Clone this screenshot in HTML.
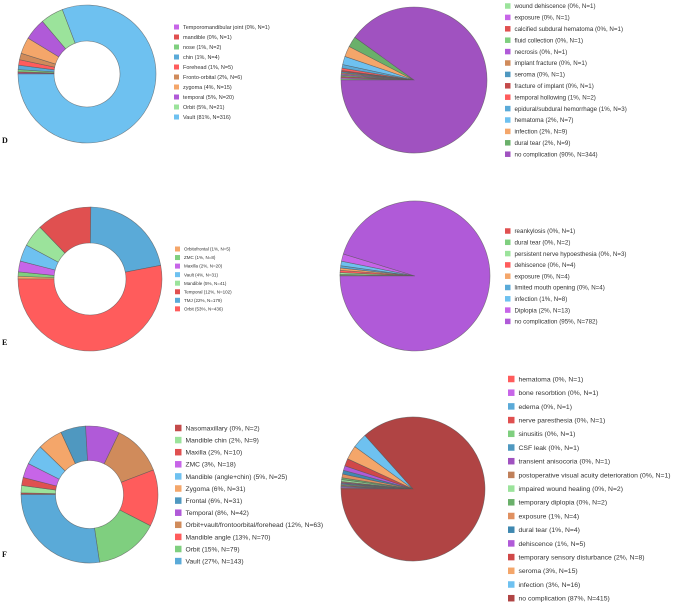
<!DOCTYPE html>
<html><head><meta charset="utf-8">
<style>
html,body{margin:0;padding:0;background:#fff;}
svg{display:block;font-family:"Liberation Sans",sans-serif;}
.lt{fill:#333;}
.pl{font-family:"Liberation Serif",serif;font-weight:bold;font-size:8px;fill:#111;}
</style></head>
<body>
<svg id="fig" width="685" height="607" viewBox="0 0 685 607">
<text class="pl" x="2" y="143">D</text>
<text class="pl" x="2" y="345">E</text>
<text class="pl" x="2" y="557">F</text>
</svg>
<script>
// Panel D left: fracture sites
const dLeftLabels=["Temporomandibular joint","mandible","nose","chin","Forehead","Fronto-orbital","zygoma","temporal","Orbit","Vault"];
const dLeftValues=[1,1,2,4,5,6,15,20,21,316];
const dLeftPct=[0,0,1,1,1,2,4,5,5,81];
const dLeftColors=["#c765e8","#e05050","#7fcf7f","#5aaad8","#ff5c5c","#d08b5b","#f4a66a","#b05ad8","#9be39b","#6ec1f0"];
// Panel D right: complications
const dRightLabels=["wound dehiscence","exposure","calcified subdural hematoma","fluid collection","necrosis","implant fracture","seroma","fracture of implant","temporal hollowing","epidural/subdural hemorrhage","hematoma","infection","dural tear","no complication"];
const dRightValues=[1,1,1,1,1,1,1,1,2,3,7,9,9,344];
const dRightPct=[0,0,0,0,0,0,0,0,1,1,2,2,2,90];
const dRightColors=["#9be39b","#c765e8","#e05050","#7fcf7f","#b05ad8","#d08b5b","#4f98c0","#c44a4a","#ff5c5c","#5aaad8","#6ec1f0","#f4a66a","#6ab06a","#a052c0"];
// Panel E left
const eLeftLabels=["Orbitofrontal","ZMC","Maxilla","Vault","Mandible","Temporal","TMJ","Orbit"];
const eLeftValues=[5,8,20,31,41,102,179,436];
const eLeftPct=[1,1,2,4,5,12,22,53];
const eLeftColors=["#f4a66a","#7fcf7f","#c765e8","#6ec1f0","#9be39b","#e05050","#5aaad8","#ff5c5c"];
// Panel E right
const eRightLabels=["reankylosis","dural tear","persistent nerve hypoesthesia","dehiscence","exposure","limited mouth opening","infection","Diplopia","no complication"];
const eRightValues=[1,2,3,4,4,4,8,13,782];
const eRightPct=[0,0,0,0,0,0,1,2,95];
const eRightColors=["#e05050","#7fcf7f","#9be39b","#ff5c5c","#f4a66a","#5aaad8","#6ec1f0","#c765e8","#b05ad8"];
// Panel F left
const fLeftLabels=["Nasomaxillary","Mandible chin","Maxilla","ZMC","Mandible (angle+chin)","Zygoma","Frontal","Temporal","Orbit+vault/frontoorbital/forehead","Mandible angle","Orbit","Vault"];
const fLeftValues=[2,9,10,18,25,31,31,42,63,70,79,143];
const fLeftPct=[0,2,2,3,5,6,6,8,12,13,15,27];
const fLeftColors=["#c44a4a","#9be39b","#e05050","#c765e8","#6ec1f0","#f4a66a","#4f98c0","#b05ad8","#d08b5b","#ff5c5c","#7fcf7f","#5aaad8"];
// Panel F right
const fRightLabels=["hematoma","bone resorbtion","edema","nerve paresthesia","sinusitis","CSF leak","transient anisocoria","postoperative visual acuity deterioration","impaired wound healing","temporary diplopia","exposure","dural tear","dehiscence","temporary sensory disturbance","seroma","infection","no complication"];
const fRightValues=[1,1,1,1,1,1,1,1,2,2,4,4,5,8,15,16,415];
const fRightPct=[0,0,0,0,0,0,0,0,0,0,1,1,1,2,3,3,87];
const fRightColors=["#ff5c5c","#c765e8","#5aaad8","#e05050","#7fcf7f","#4f98c0","#a052c0","#c0805a","#9be39b","#6ab06a","#e09060","#3f88b0","#b05ad8","#d04848","#f4a66a","#6ec1f0","#b04444"];

const NS="http://www.w3.org/2000/svg";
const svg=document.getElementById('fig');
function angleScale(v,total){return Math.PI+v/total*2*Math.PI;}
function pt(cx,cy,r,a){return [cx+r*Math.cos(a),cy+r*Math.sin(a)];}
function drawChart(id,labels,values,pct,colors,cx,cy,r,ri,lx,ly,dy,fs,sw){
  const g=document.createElementNS(NS,'g');
  
  
  svg.appendChild(g);
  const total=values.reduce((a,b)=>a+b,0);
  let acc=0;
  values.forEach((v,i)=>{
    const a0=angleScale(acc,total),a1=angleScale(acc+v,total);acc+=v;
    const large=(a1-a0)>Math.PI?1:0;
    const p0=pt(cx,cy,r,a0),p1=pt(cx,cy,r,a1);
    let d;
    if(ri>0){const q0=pt(cx,cy,ri,a0),q1=pt(cx,cy,ri,a1);
      d=`M${p0[0]},${p0[1]}A${r},${r} 0 ${large} 1 ${p1[0]},${p1[1]}L${q1[0]},${q1[1]}A${ri},${ri} 0 ${large} 0 ${q0[0]},${q0[1]}Z`;}
    else d=`M${cx},${cy}L${p0[0]},${p0[1]}A${r},${r} 0 ${large} 1 ${p1[0]},${p1[1]}Z`;
    const p=document.createElementNS(NS,'path');
    p.setAttribute('d',d);p.setAttribute('fill',colors[i]);
    p.setAttribute('stroke','#555');p.setAttribute('stroke-width','0.6');p.setAttribute('stroke-opacity','0.7');
    
    
    g.appendChild(p);
  });
  labels.forEach((lab,i)=>{
    const y=ly+i*dy;
    const s=document.createElementNS(NS,'rect');
    s.setAttribute('x',lx);s.setAttribute('y',y-sw/2);s.setAttribute('width',sw);s.setAttribute('height',sw);s.setAttribute('fill',colors[i]);
    
    
    g.appendChild(s);
    const t=document.createElementNS(NS,'text');
    t.setAttribute('x',lx+sw+4);t.setAttribute('y',y+fs*0.36);t.setAttribute('font-size',fs);t.setAttribute('class','lt');
    t.textContent=`${lab} (${pct[i]}%, N=${values[i]})`;
    
    
    g.appendChild(t);
  });
}
drawChart('chart-d-fracture-sites',dLeftLabels,dLeftValues,dLeftPct,dLeftColors,87,74,69,33,174,27,10,5.5,5);
drawChart('chart-d-complications',dRightLabels,dRightValues,dRightPct,dRightColors,414,80,73,0,505,6,11.4,6.2,5.5);
drawChart('chart-e-fracture-sites',eLeftLabels,eLeftValues,eLeftPct,eLeftColors,90,279,72,36,175,249,8.55,4.5,5);
drawChart('chart-e-complications',eRightLabels,eRightValues,eRightPct,eRightColors,415,276,75,0,505,231,11.3,6.2,5.5);
drawChart('chart-f-fracture-sites',fLeftLabels,fLeftValues,fLeftPct,fLeftColors,89.5,494.5,68.5,34,175,428,12.1,6.7,6.5);
drawChart('chart-f-complications',fRightLabels,fRightValues,fRightPct,fRightColors,413,489,72,0,508,379,13.7,6.8,6.5);
</script>
</body></html>
